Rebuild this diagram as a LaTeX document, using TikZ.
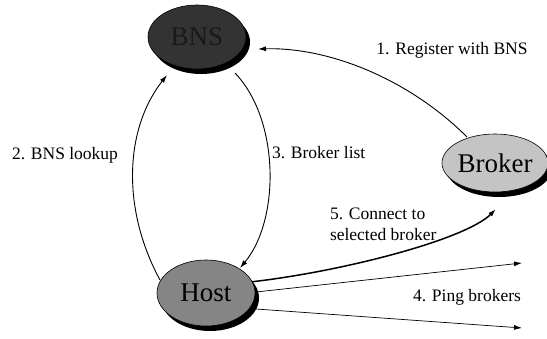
\documentclass[tikz,border=0pt]{standalone}
\usepackage{fontspec}
\setmainfont{Liberation Serif}
\usetikzlibrary{shapes.geometric,shadows,backgrounds,calc,arrows.meta}
\definecolor{bnsfill}{HTML}{333333}
\definecolor{hostfill}{HTML}{858585}
\definecolor{brokerfill}{HTML}{C4C4C4}
\begin{document}
\begin{tikzpicture}[x=1pt,y=-1pt,
  every node/.style={inner sep=0pt,outer sep=0pt},
  ent/.style={ellipse, draw=black, line width=0.6pt,
    font=\fontsize{27}{30}\selectfont,
    general shadow={fill=black, shadow xshift=4pt, shadow yshift=-5pt}},
  lbl/.style={font=\fontsize{17.5}{21}\selectfont, align=left},
  conn/.style={line width=0.9pt, -{Latex[length=8pt,width=5pt]}},
  ping/.style={line width=0.7pt, -{Latex[length=8pt,width=5pt]}},
]
\useasboundingbox (0,0) rectangle (547,339);
\node[ent, fill=bnsfill, text=black!90, minimum width=98pt, minimum height=64pt] (bns) at (197,37) {BNS};
\node[ent, fill=brokerfill, minimum width=90pt, minimum height=58pt] (broker) at (495,163) {Broker};
\node[ent, fill=hostfill, minimum width=98pt, minimum height=66pt] (host) at (206,293) {Host};

\node[lbl] (l1) at (452,50) {1. Register with BNS};
\node[lbl] (l2) at (65,155) {2. BNS lookup};
\node[lbl, anchor=west] (l3) at (272,153) {3. Broker list};
\node[lbl, anchor=west] (l5) at (330,224) {5. Connect to\\selected broker};
\node[lbl] (l4) at (467,297) {4. Ping brokers};

\coordinate (p1) at (522,263);
\coordinate (p2) at (522,328);

\begin{pgfonlayer}{background}
\draw[conn] ($(broker)+(-28,-26)$) .. controls +(-57,-57) and +(72,-2) .. ($(bns)+(61,12)$);
\draw[conn] ($(host)+(-46,-13)$) .. controls +(-38,-70) and +(-43,55) .. ($(bns)+(-30,38)$);
\draw[conn] ($(bns)+(38,36)$) .. controls +(45,47) and +(40,-48) .. ($(host)+(34,-25)$);
\draw[conn, line width=1.5pt] ($(host)+(44,-11)$) .. controls +(90,-10) and +(-31,31) .. ($(broker)+(1,46)$);
\draw[ping] ($(host)+(50,-1)$) -- (p1);
\draw[ping] ($(host)+(50,16)$) -- (p2);
\end{pgfonlayer}
\end{tikzpicture}
\end{document}
